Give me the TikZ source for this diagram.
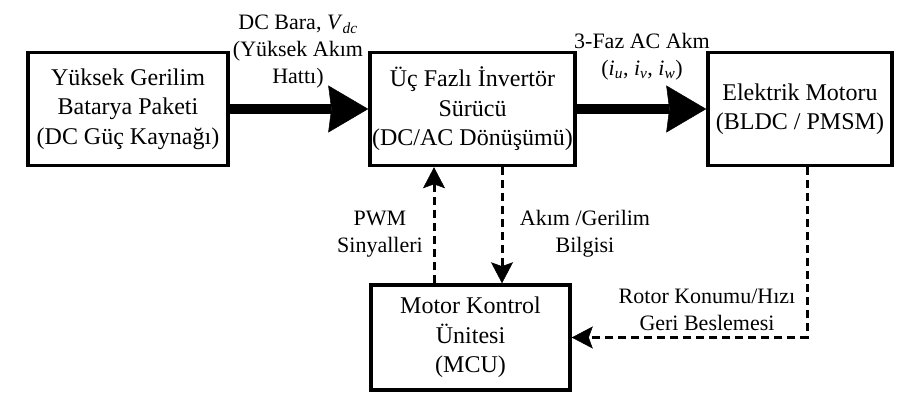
\documentclass[tikz,border=0pt]{standalone}
\usepackage{fontspec}
\setmainfont{Liberation Serif}
\usetikzlibrary{arrows.meta}

\begin{document}
\begin{tikzpicture}[x=1pt,y=1pt,line cap=butt,line join=miter,
  box/.style={draw,line width=3.5pt,align=center,inner sep=0pt,font=\fontsize{24}{29.5}\selectfont},
  lbl/.style={align=center,inner sep=0pt,font=\fontsize{22}{27}\selectfont},
  bigarrow/.style={line width=10pt,-{Stealth[length=40pt,width=47pt,inset=3pt,line width=0.5pt]}},
  dasharrow/.style={line width=3pt,dash pattern=on 8pt off 5pt,-{Stealth[length=21pt,width=22pt,inset=4pt,line width=0.5pt]}}]
\useasboundingbox (0,0) rectangle (901,399);
\node[box,minimum width=200,minimum height=113] (bat) at (128,290) {Yüksek Gerilim\\Batarya Paketi\\(DC Güç Kaynağı)};
\node[box,minimum width=205,minimum height=113] (inv) at (472.5,290) {Üç Fazlı İnvertör\\Sürücü\\(DC/AC Dönüşümü)};
\node[box,minimum width=184,minimum height=113] (mot) at (800,290) {Elektrik Motoru\\(BLDC / PMSM)};
\node[box,minimum width=199,minimum height=105] (mcu) at (470.5,61.5) {Motor Kontrol\\Ünitesi\\(MCU)};
\draw[bigarrow] (bat) -- (inv);
\draw[bigarrow] (inv) -- (mot);
\draw[dasharrow] ([xshift=-36.5]mcu.north) -- ([xshift=-36.5]mcu.north |- inv.south);
\draw[dasharrow] ([xshift=31.5]mcu.north |- inv.south) -- ([xshift=31.5]mcu.north);
\draw[dasharrow] ([xshift=7]mot.south) |- (mcu);
\node[lbl] (dcbus) at (298,347) {DC Bara, \textit{V}\textsubscript{\textit{dc}}\\(Yüksek Akım\\Hattı)};
\node[lbl] (phase) at (642,342) {3-Faz AC Akm\\(\textit{i}\textsubscript{\textit{u}}, \textit{i}\textsubscript{\textit{v}}, \textit{i}\textsubscript{\textit{w}})};
\node[lbl] (pwm) at (380,165) {PWM\\Sinyalleri};
\node[lbl] (sense) at (585,165) {Akım /Gerilim\\Bilgisi};
\node[lbl] (rotor) at (707,89) {Rotor Konumu/Hızı\\Geri Beslemesi};
\end{tikzpicture}
\end{document}
